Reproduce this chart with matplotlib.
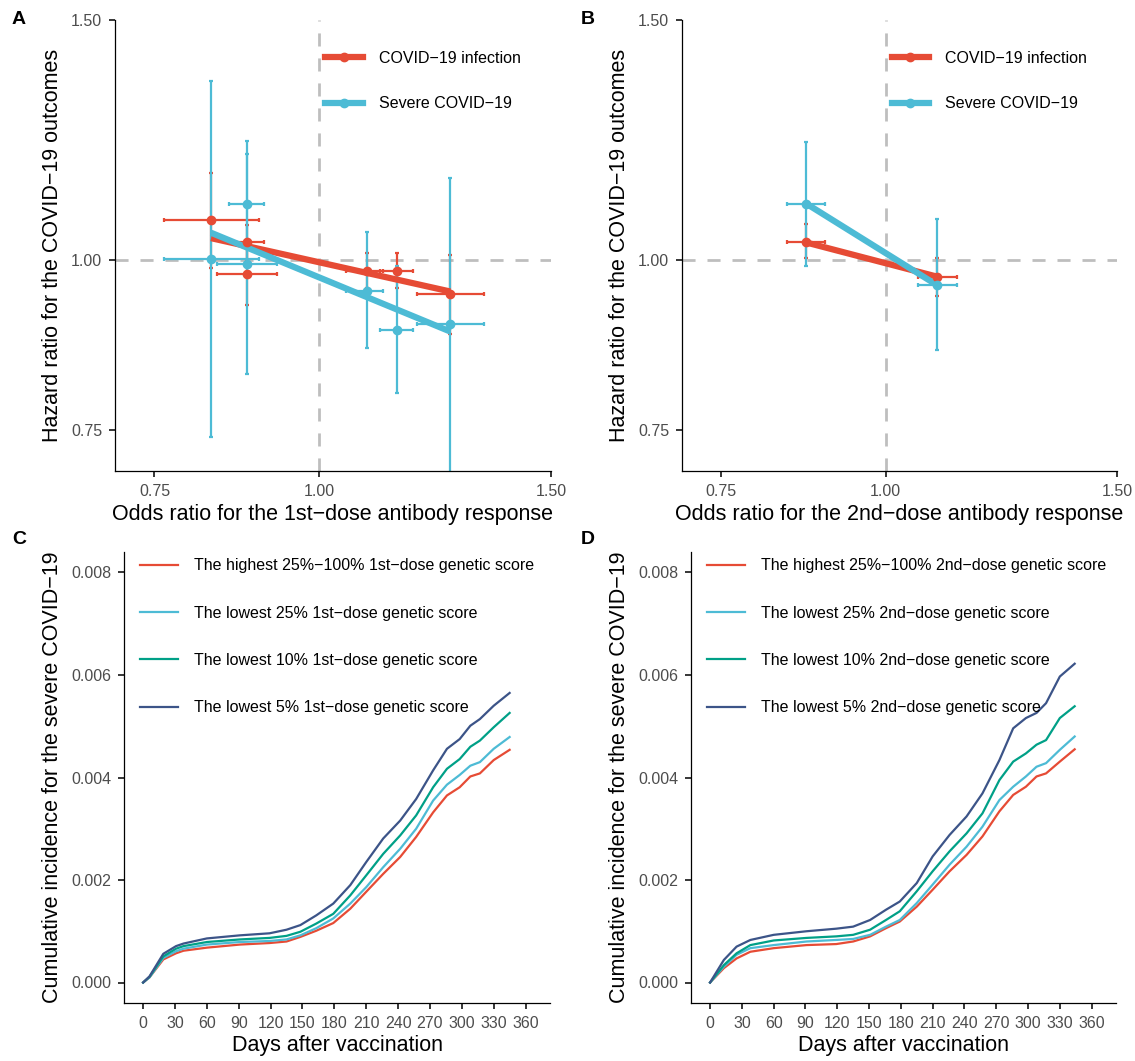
import numpy as np
import matplotlib
matplotlib.use("Agg")
import matplotlib.pyplot as plt
from matplotlib.lines import Line2D
from matplotlib.ticker import NullLocator

plt.rcParams['font.family'] = ['Liberation Sans', 'DejaVu Sans']

RED = "#E64B35"
CYAN = "#4DBBD5"
GREEN = "#00A087"
NAVY = "#3C5488"
TICKC = "#4D4D4D"

# ---- Panel A: 1st-dose MR estimates (OR for antibody, HR for outcomes) ----
a_or = [0.828, 0.881, 0.881, 1.087, 1.145, 1.258]
a_or_lo = [0.763, 0.855, 0.837, 1.048, 1.113, 1.187]
a_or_hi = [0.901, 0.909, 0.929, 1.118, 1.178, 1.334]
a_inf_hr = [1.070, 1.030, 0.977, 0.982, 0.982, 0.944]
a_inf_lo = [0.987, 1.000, 0.927, 0.954, 0.954, 0.883]
a_inf_hi = [1.159, 1.061, 1.030, 1.011, 1.011, 1.008]
a_sev_hr = [1.002, 1.100, 0.993, 0.949, 0.888, 0.897]
a_sev_lo = [0.742, 0.990, 0.824, 0.861, 0.798, 0.680]
a_sev_hi = [1.353, 1.222, 1.197, 1.048, 0.990, 1.149]
# fitted lines (start / end)
a_fit_x = [0.828, 1.258]
a_fit_inf = [1.0375, 0.948]
a_fit_sev = [1.047, 0.886]

# ---- Panel B: 2nd-dose ----
b_or = [0.870, 1.095]
b_or_lo = [0.842, 1.059]
b_or_hi = [0.900, 1.133]
b_inf_hr = [1.030, 0.972]
b_inf_lo = [1.003, 0.941]
b_inf_hi = [1.063, 1.004]
b_sev_hr = [1.100, 0.958]
b_sev_lo = [0.990, 0.859]
b_sev_hi = [1.220, 1.072]

outcome_labels = ["COVID\u221219 infection", "Severe COVID\u221219"]

# ---- Panel C: cumulative incidence, 1st-dose genetic score groups ----
c_days = [0, 6, 19, 31, 38, 60, 91, 119, 135, 148, 163, 179, 195, 210, 226,
          242, 257, 273, 286, 298, 308, 317, 330, 345]
c_high = [0, 0.00010, 0.00045, 0.00057, 0.00062, 0.00068, 0.00074, 0.00077,
          0.00080, 0.00089, 0.00101, 0.00116, 0.00144, 0.00177, 0.00212,
          0.00245, 0.00284, 0.00332, 0.00365, 0.00381, 0.00402, 0.00408,
          0.00434, 0.00454]
c_low25 = [0, 0.00010, 0.00048, 0.00061, 0.00066, 0.00074, 0.00079, 0.00081,
           0.00084, 0.00092, 0.00106, 0.00125, 0.00154, 0.00186, 0.00225,
           0.00261, 0.00300, 0.00355, 0.00386, 0.00405, 0.00423, 0.00430,
           0.00456, 0.00479]
c_low10 = [0, 0.00011, 0.00051, 0.00066, 0.00071, 0.00079, 0.00084, 0.00087,
           0.00091, 0.00099, 0.00115, 0.00134, 0.00170, 0.00209, 0.00251,
           0.00287, 0.00326, 0.00381, 0.00417, 0.00436, 0.00460, 0.00472,
           0.00498, 0.00526]
c_low5 = [0, 0.00012, 0.00056, 0.00071, 0.00076, 0.00086, 0.00092, 0.00096,
          0.00103, 0.00112, 0.00131, 0.00154, 0.00190, 0.00235, 0.00281,
          0.00316, 0.00358, 0.00414, 0.00456, 0.00475, 0.00501, 0.00514,
          0.00540, 0.00565]
c_labels = ["The highest 25%\u2212100% 1st\u2212dose genetic score",
            "The lowest 25% 1st\u2212dose genetic score",
            "The lowest 10% 1st\u2212dose genetic score",
            "The lowest 5% 1st\u2212dose genetic score"]

# ---- Panel D: 2nd-dose genetic score groups ----
d_days = [0, 13, 25, 38, 60, 91, 119, 135, 151, 166, 179, 195, 210, 226,
          242, 257, 273, 286, 298, 308, 317, 330, 344]
d_high = [0, 0.00028, 0.00047, 0.00060, 0.00067, 0.00073, 0.00075, 0.00080,
          0.00090, 0.00106, 0.00119, 0.00148, 0.00181, 0.00217, 0.00249,
          0.00285, 0.00334, 0.00366, 0.00382, 0.00402, 0.00408, 0.00431,
          0.00455]
d_low25 = [0, 0.00031, 0.00054, 0.00067, 0.00073, 0.00080, 0.00083, 0.00085,
           0.00093, 0.00109, 0.00122, 0.00155, 0.00191, 0.00230, 0.00265,
           0.00304, 0.00356, 0.00382, 0.00402, 0.00421, 0.00428, 0.00454,
           0.00480]
d_low10 = [0, 0.00034, 0.00057, 0.00073, 0.00082, 0.00087, 0.00090, 0.00093,
           0.00103, 0.00122, 0.00139, 0.00178, 0.00217, 0.00256, 0.00291,
           0.00330, 0.00395, 0.00431, 0.00447, 0.00464, 0.00473, 0.00516,
           0.00539]
d_low5 = [0, 0.00044, 0.00070, 0.00083, 0.00093, 0.00100, 0.00105, 0.00109,
          0.00122, 0.00142, 0.00158, 0.00194, 0.00246, 0.00288, 0.00324,
          0.00369, 0.00434, 0.00496, 0.00516, 0.00526, 0.00545, 0.00597,
          0.00622]
d_labels = [s.replace("1st", "2nd") for s in c_labels]

W, H = 1135, 1061
fig = plt.figure(figsize=(W / 100, H / 100), dpi=100)


def px_axes(l, t, r, b):
    return fig.add_axes([l / W, 1 - b / H, (r - l) / W, (b - t) / H])


def style(ax):
    for s in ["top", "right"]:
        ax.spines[s].set_visible(False)
    for s in ["left", "bottom"]:
        ax.spines[s].set_linewidth(0.9)
    ax.tick_params(length=4.2, width=1.1, colors="black", labelcolor=TICKC,
                   labelsize=11.5, pad=5)


def asym(v, lo, hi):
    v, lo, hi = map(np.asarray, (v, lo, hi))
    return [v - lo, hi - v]


def mr_panel(ax, x, xlo, xhi, inf, inflo, infhi, sev, sevlo, sevhi,
             fit_x, fit_inf, fit_sev, xlabel):
    ax.set_xscale("log")
    ax.set_yscale("log")
    ax.axvline(1, color="#BEBEBE", lw=2, ls=(0, (4.7, 4.3)), zorder=1)
    ax.axhline(1, color="#BEBEBE", lw=2, ls=(0, (4.7, 4.3)), zorder=1)
    for hr, lo, hi, c in [(inf, inflo, infhi, RED), (sev, sevlo, sevhi, CYAN)]:
        ax.errorbar(x, hr, xerr=asym(x, xlo, xhi), yerr=asym(hr, lo, hi),
                    fmt="none", ecolor=c, elinewidth=1.6, capsize=1.5,
                    capthick=1.6, zorder=2)
    ax.plot(fit_x, fit_inf, color=RED, lw=4.5, solid_capstyle="butt", zorder=3)
    ax.plot(fit_x, fit_sev, color=CYAN, lw=4.5, solid_capstyle="butt", zorder=3)
    ax.plot(x, inf, "o", color=RED, ms=6, zorder=4)
    ax.plot(x, sev, "o", color=CYAN, ms=6, zorder=4)
    ax.set_xlim(0.70, 1.50)
    ax.set_ylim(0.70, 1.50)
    for axis in (ax.xaxis, ax.yaxis):
        axis.set_minor_locator(NullLocator())
    ax.set_xticks([0.75, 1.0, 1.5])
    ax.set_xticklabels(["0.75", "1.00", "1.50"])
    ax.set_yticks([0.75, 1.0, 1.5])
    ax.set_yticklabels(["0.75", "1.00", "1.50"])
    style(ax)
    ax.set_xlabel(xlabel, fontsize=15.5, labelpad=4)
    ax.set_ylabel("Hazard ratio for the COVID\u221219 outcomes", fontsize=15.5,
                  labelpad=6)
    handles = [Line2D([], [], color=RED, lw=4.5, marker="o", ms=6),
               Line2D([], [], color=CYAN, lw=4.5, marker="o", ms=6)]
    ax.legend(handles, outcome_labels, loc="upper left",
              bbox_to_anchor=(0.482, 0.932), frameon=False, fontsize=11.5,
              handlelength=2.35, handletextpad=1.0, labelspacing=1.92,
              borderpad=0, borderaxespad=0)


def ci_panel(ax, days, curves, labels):
    for y, c, lab in zip(curves, [RED, CYAN, GREEN, NAVY], labels):
        ax.plot(days, y, color=c, lw=1.6, label=lab)
    ax.set_xlim(-18, 383)
    ax.set_ylim(-0.0004, 0.0084)
    ax.set_xticks(np.arange(0, 361, 30))
    ax.set_yticks([0, 0.002, 0.004, 0.006, 0.008])
    ax.set_yticklabels(["0.000", "0.002", "0.004", "0.006", "0.008"])
    style(ax)
    ax.set_xlabel("Days after vaccination", fontsize=15.5, labelpad=3)
    ax.set_ylabel("Cumulative incidence for the severe COVID\u221219",
                  fontsize=15.5, labelpad=6)
    ax.legend(loc="upper left", bbox_to_anchor=(0.038, 0.986), frameon=False,
              fontsize=11.5, handlelength=2.35, handletextpad=1.0,
              labelspacing=2.02, borderpad=0, borderaxespad=0)


axA = px_axes(115, 20, 551, 471)
mr_panel(axA, a_or, a_or_lo, a_or_hi, a_inf_hr, a_inf_lo, a_inf_hi,
         a_sev_hr, a_sev_lo, a_sev_hi, a_fit_x, a_fit_inf, a_fit_sev,
         "Odds ratio for the 1st\u2212dose antibody response")

axB = px_axes(682, 20, 1117, 471)
mr_panel(axB, b_or, b_or_lo, b_or_hi, b_inf_hr, b_inf_lo, b_inf_hi,
         b_sev_hr, b_sev_lo, b_sev_hi, b_or, b_inf_hr, b_sev_hr,
         "Odds ratio for the 2nd\u2212dose antibody response")

axC = px_axes(124, 552, 550, 1003)
ci_panel(axC, c_days, [c_high, c_low25, c_low10, c_low5], c_labels)

axD = px_axes(691, 552, 1116, 1003)
ci_panel(axD, d_days, [d_high, d_low25, d_low10, d_low5], d_labels)

for lab, x, y in [("A", 12, 20), ("B", 581, 20), ("C", 12, 540), ("D", 581, 540)]:
    fig.text(x / W, 1 - y / H, lab, fontsize=14, fontweight="bold",
             ha="left", va="center")

fig.savefig("out.png", dpi=100)
